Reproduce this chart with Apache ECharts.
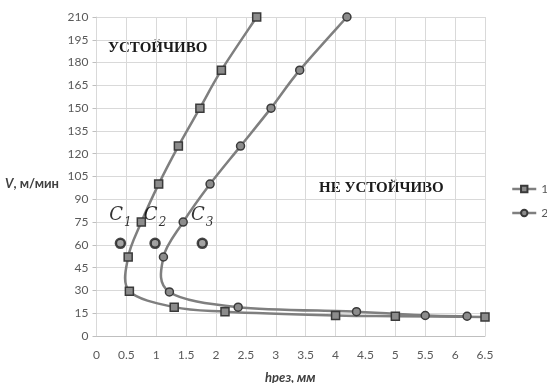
<!DOCTYPE html>
<html><head><meta charset="utf-8">
<script src="https://cdn.jsdelivr.net/npm/echarts@6/dist/echarts.min.js"></script>
<style>html,body{margin:0;padding:0;background:#fff}#c{width:547px;height:383px}</style>
</head><body><div id="c"></div>
<script>
const h1 = [2.68, 2.09, 1.73, 1.37, 1.04, 0.75, 0.53, 0.55, 1.30, 2.15, 4.0, 5.0, 6.5];
const v1 = [210, 175, 150, 125, 100, 75, 52, 29.5, 19, 16, 13.5, 13, 12.5];
const h2 = [4.19, 3.40, 2.92, 2.41, 1.90, 1.45, 1.12, 1.22, 2.37, 4.35, 5.5, 6.2];
const v2 = [210, 175, 150, 125, 100, 75, 52, 29, 19, 16, 13.5, 13];
const cNames = ['1', '2', '3'];
const cH = [0.40, 0.98, 1.77];
const cV = [61, 61, 61];
const seriesNames = ['1', '2'];

const chart = echarts.init(document.getElementById('c'));
const pair = (xs, ys) => xs.map((x, i) => [x, ys[i]]);
const tickFont = {fontFamily: 'Lato, "Open Sans", sans-serif', fontSize: 12, color: '#595959'};
const lineColor = '#7f7f7f';

// Smoothed (Catmull-Rom style, like a spreadsheet "smoothed line") curve drawn through the
// data points with the chart's own coordinate conversion.
function smoothCurve(xs, ys) {
  return function (params, api) {
    const i = params.dataIndex;
    const n = xs.length;
    if (i >= n - 1) return null;
    const P = k => api.coord([xs[Math.max(0, Math.min(n - 1, k))], ys[Math.max(0, Math.min(n - 1, k))]]);
    const p0 = P(i - 1), p1 = P(i), p2 = P(i + 1), p3 = P(i + 2);
    const t = 1 / 6;
    return {
      type: 'bezierCurve',
      shape: {
        x1: p1[0], y1: p1[1], x2: p2[0], y2: p2[1],
        cpx1: p1[0] + (p2[0] - p0[0]) * t, cpy1: p1[1] + (p2[1] - p0[1]) * t,
        cpx2: p2[0] - (p3[0] - p1[0]) * t, cpy2: p2[1] - (p3[1] - p1[1]) * t
      },
      style: {fill: null, stroke: lineColor, lineWidth: 2.5},
      silent: true
    };
  };
}

chart.setOption({
  animation: false,
  grid: {left: 96.5, right: 62, top: 17, bottom: 47},
  legend: {
    orient: 'vertical', left: 511, top: 183, padding: 0, itemGap: 12, itemWidth: 24, itemHeight: 8,
    data: seriesNames.map(s => ({name: s, lineStyle: {width: 2.5, color: lineColor, opacity: 1}})),
    textStyle: {fontFamily: 'Lato, sans-serif', fontSize: 12, color: '#595959'}
  },
  xAxis: {
    type: 'value', min: 0, max: 6.5, interval: 0.5,
    axisLine: {show: true, lineStyle: {color: '#bfbfbf'}},
    axisTick: {show: false},
    splitLine: {show: true, lineStyle: {color: '#d9d9d9', width: 1}},
    axisLabel: Object.assign({margin: 13}, tickFont)
  },
  yAxis: {
    type: 'value', min: 0, max: 210, interval: 15,
    axisLine: {show: true, lineStyle: {color: '#d9d9d9'}},
    axisTick: {show: true, length: 4, lineStyle: {color: '#bfbfbf'}},
    splitLine: {show: true, lineStyle: {color: '#d9d9d9', width: 1}},
    axisLabel: Object.assign({margin: 8}, tickFont)
  },
  series: [
    {type: 'custom', data: pair(h1, v1), renderItem: smoothCurve(h1, v1), z: 2, silent: true},
    {type: 'custom', data: pair(h2, v2), renderItem: smoothCurve(h2, v2), z: 2, silent: true},
    {
      name: seriesNames[0], type: 'line', data: pair(h1, v1), z: 3,
      symbol: 'rect', symbolSize: 8,
      lineStyle: {color: lineColor, width: 2.5, opacity: 0},
      itemStyle: {color: '#8c8c8c', borderColor: '#3a3a3a', borderWidth: 1.5}
    },
    {
      name: seriesNames[1], type: 'line', data: pair(h2, v2), z: 3,
      symbol: 'circle', symbolSize: 8,
      lineStyle: {color: lineColor, width: 2.5, opacity: 0},
      itemStyle: {color: '#8c8c8c', borderColor: '#3a3a3a', borderWidth: 1.5}
    },
    {
      name: 'C', type: 'scatter', data: pair(cH, cV), symbol: 'circle', symbolSize: 9, z: 4,
      itemStyle: {color: '#8c8c8c', borderColor: '#1a1a1a', borderWidth: 2.5},
      label: {
        show: true, position: 'top', distance: 9,
        formatter: p => '{c|C}{s|' + cNames[p.dataIndex] + '}',
        rich: {
          c: {fontFamily: '"DejaVu Serif", serif', fontStyle: 'italic', fontSize: 18, color: '#000'},
          s: {fontFamily: '"DejaVu Serif", serif', fontStyle: 'italic', fontSize: 12, color: '#000', padding: [14, 0, 0, 1]}
        }
      }
    }
  ],
  graphic: [
    {type: 'text', left: 108, top: 41, style: {text: 'УСТОЙЧИВО', font: 'bold 15px "Liberation Serif", serif', fill: '#1a1a1a'}},
    {type: 'text', left: 319, top: 181, style: {text: 'НЕ УСТОЙЧИВО', font: 'bold 15px "Liberation Serif", serif', fill: '#1a1a1a'}},
    {type: 'text', left: 5, top: 177, style: {
      text: '{i|V}{n|, м/мин}',
      rich: {
        i: {font: 'italic bold 13px Lato, sans-serif', fill: '#404040'},
        n: {font: 'bold 13px Lato, sans-serif', fill: '#404040'}
      }
    }},
    {type: 'text', left: 265, top: 371, style: {text: 'hрез, мм', font: 'italic bold 13px Lato, sans-serif', fill: '#404040'}}
  ]
});
</script></body></html>
